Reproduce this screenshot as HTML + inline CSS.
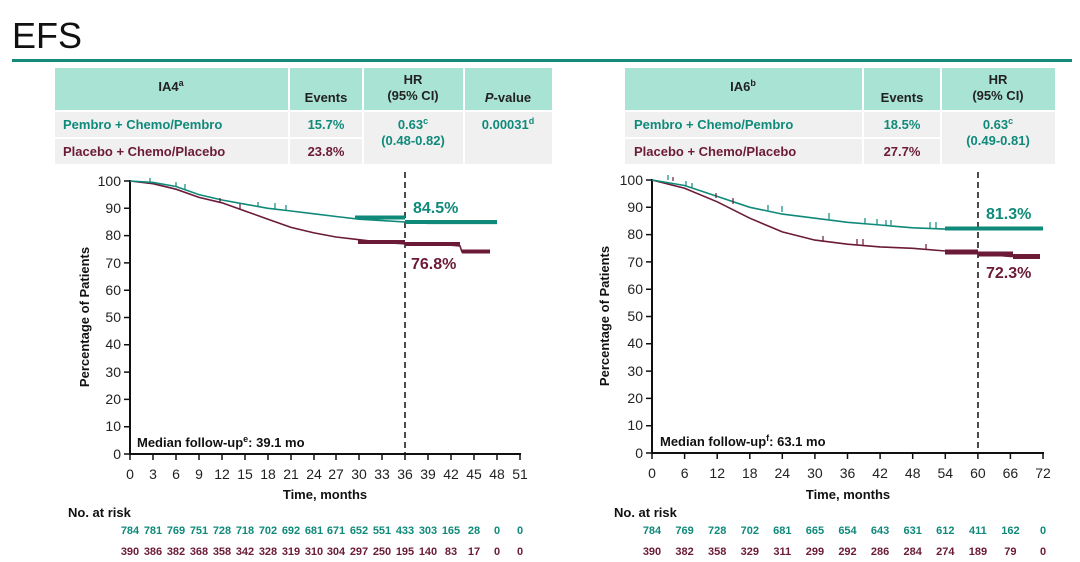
<!DOCTYPE html>
<html><head><meta charset="utf-8"><style>
body{margin:0;background:#fff;}
svg{display:block;font-family:"Liberation Sans",Arial,sans-serif;}
.b{font-weight:bold}
.t{fill:#0f8a7a}.m{fill:#6b1a38}
</style></head><body>
<svg width="1080" height="562" viewBox="0 0 1080 562">
<text x="12" y="48" font-size="36" fill="#111">EFS</text>
<rect x="12" y="59" width="1060" height="3" fill="#148a7a"/>
<!-- Left table -->
<g>
<rect x="55" y="68" width="233" height="42" fill="#a9e3d3"/>
<rect x="290" y="68" width="72" height="42" fill="#a9e3d3"/>
<rect x="364" y="68" width="99" height="42" fill="#a9e3d3"/>
<rect x="465" y="68" width="87" height="42" fill="#a9e3d3"/>
<rect x="55" y="112" width="233" height="25" fill="#f0f0f0"/>
<rect x="55" y="139" width="233" height="25" fill="#f0f0f0"/>
<rect x="290" y="112" width="72" height="25" fill="#f0f0f0"/>
<rect x="290" y="139" width="72" height="25" fill="#f0f0f0"/>
<rect x="364" y="112" width="99" height="52" fill="#f0f0f0"/>
<rect x="465" y="112" width="87" height="52" fill="#f0f0f0"/>
<g font-size="13" class="b" fill="#222" text-anchor="middle">
<text x="171" y="91">IA4<tspan font-size="9" dy="-5">a</tspan></text>
<text x="326" y="102">Events</text>
<text x="413" y="84">HR</text><text x="413" y="100">(95% CI)</text>
<text x="508" y="102"><tspan font-style="italic">P</tspan>-value</text>
</g>
<g font-size="13" class="b">
<text x="63" y="129" class="t">Pembro  + Chemo/Pembro</text>
<text x="63" y="156" class="m">Placebo  + Chemo/Placebo</text>
<text x="326" y="129" class="t" text-anchor="middle">15.7%</text>
<text x="326" y="156" class="m" text-anchor="middle">23.8%</text>
<text x="413" y="129" class="t" text-anchor="middle">0.63<tspan font-size="9" dy="-5">c</tspan></text>
<text x="413" y="145" class="t" text-anchor="middle">(0.48-0.82)</text>
<text x="508" y="129" class="t" text-anchor="middle">0.00031<tspan font-size="9" dy="-5">d</tspan></text>
</g>
</g>
<!-- Right table -->
<g>
<rect x="625" y="68" width="237" height="42" fill="#a9e3d3"/>
<rect x="864" y="68" width="76" height="42" fill="#a9e3d3"/>
<rect x="942" y="68" width="113" height="42" fill="#a9e3d3"/>
<rect x="625" y="112" width="237" height="25" fill="#f0f0f0"/>
<rect x="625" y="139" width="237" height="25" fill="#f0f0f0"/>
<rect x="864" y="112" width="76" height="25" fill="#f0f0f0"/>
<rect x="864" y="139" width="76" height="25" fill="#f0f0f0"/>
<rect x="942" y="112" width="113" height="52" fill="#f0f0f0"/>
<g font-size="13" class="b" fill="#222" text-anchor="middle">
<text x="743" y="91">IA6<tspan font-size="9" dy="-5">b</tspan></text>
<text x="902" y="102">Events</text>
<text x="998" y="84">HR</text><text x="998" y="100">(95% CI)</text>
</g>
<g font-size="13" class="b">
<text x="634" y="129" class="t">Pembro  + Chemo/Pembro</text>
<text x="634" y="156" class="m">Placebo  + Chemo/Placebo</text>
<text x="902" y="129" class="t" text-anchor="middle">18.5%</text>
<text x="902" y="156" class="m" text-anchor="middle">27.7%</text>
<text x="998" y="129" class="t" text-anchor="middle">0.63<tspan font-size="9" dy="-5">c</tspan></text>
<text x="998" y="145" class="t" text-anchor="middle">(0.49-0.81)</text>
</g>
</g>

<!-- LEFT CHART -->
<path d="M130,180 V454 H521" stroke="#111" stroke-width="2" fill="none"/>
<g stroke="#111" stroke-width="1.5">
<path d="M124,181H130M124,208.3H130M124,235.6H130M124,262.9H130M124,290.2H130M124,317.5H130M124,344.8H130M124,372.1H130M124,399.4H130M124,426.7H130M124,454H130"/>
<path d="M130,454v6M153,454v6M176,454v6M199,454v6M222,454v6M245,454v6M268,454v6M291,454v6M314,454v6M336,454v6M359,454v6M382,454v6M405,454v6M428,454v6M451,454v6M474,454v6M497,454v6M520,454v6"/>
</g>
<g font-size="14" fill="#222" text-anchor="end">
<text x="121" y="186">100</text><text x="121" y="213">90</text><text x="121" y="240">80</text><text x="121" y="268">70</text><text x="121" y="295">60</text><text x="121" y="322">50</text><text x="121" y="349">40</text><text x="121" y="377">30</text><text x="121" y="404">20</text><text x="121" y="431">10</text><text x="121" y="459">0</text>
</g>
<g font-size="14" fill="#222" text-anchor="middle">
<text x="130" y="479">0</text><text x="153" y="479">3</text><text x="176" y="479">6</text><text x="199" y="479">9</text><text x="222" y="479">12</text><text x="245" y="479">15</text><text x="268" y="479">18</text><text x="291" y="479">21</text><text x="314" y="479">24</text><text x="336" y="479">27</text><text x="359" y="479">30</text><text x="382" y="479">33</text><text x="405" y="479">36</text><text x="428" y="479">39</text><text x="451" y="479">42</text><text x="474" y="479">45</text><text x="497" y="479">48</text><text x="520" y="479">51</text>
</g>
<text x="325" y="499" font-size="13" class="b" text-anchor="middle" fill="#111">Time, months</text>
<text transform="translate(89,317) rotate(-90)" font-size="13" class="b" text-anchor="middle" fill="#111">Percentage of Patients</text>
<text x="137" y="447" font-size="13" class="b" fill="#111">Median  follow-up<tspan font-size="9" dy="-5">e</tspan><tspan dy="5">:  39.1 mo</tspan></text>
<path d="M405,172V454" stroke="#111" stroke-width="1.5" stroke-dasharray="6,4"/>
<polyline fill="none" stroke="#6b1a38" stroke-width="1.6" points="130,181 153,183.7 176,189.2 199,197.4 222,202.8 245,211 268,219.2 291,227.4 314,232.9 336,237 359,239.7 382,242.4 405,243.8 451,245.2 460,246 462,252 490,252"/>
<polyline fill="none" stroke="#0f8a7a" stroke-width="1.6" points="130,181 153,182.4 176,186.5 199,194.6 222,200 245,204.2 268,208.3 291,211 314,213.8 336,216.5 359,219.2 382,220.6 405,222 428,223.3 497,223.3"/>
<path d="M150,182v-4M176,186v-4M185,189v-5M258,207v-5M275,209v-6M286,210v-5" stroke="#0f8a7a" stroke-width="1.2"/>
<path d="M220,202v-4M240,209v-5" stroke="#6b1a38" stroke-width="1.2"/>
<path d="M355,217.5H405M405,222H497" stroke="#0f8a7a" stroke-width="4"/>
<path d="M358,242H405M405,244H460M462,251.5H490" stroke="#6b1a38" stroke-width="4"/>
<text x="413" y="213" font-size="16" class="b t">84.5%</text>
<text x="411" y="269" font-size="16" class="b m">76.8%</text>
<text x="68" y="517" font-size="13" class="b" fill="#111">No. at risk</text>
<g font-size="11" class="b t" text-anchor="middle">
<text x="130" y="534">784</text><text x="153" y="534">781</text><text x="176" y="534">769</text><text x="199" y="534">751</text><text x="222" y="534">728</text><text x="245" y="534">718</text><text x="268" y="534">702</text><text x="291" y="534">692</text><text x="314" y="534">681</text><text x="336" y="534">671</text><text x="359" y="534">652</text><text x="382" y="534">551</text><text x="405" y="534">433</text><text x="428" y="534">303</text><text x="451" y="534">165</text><text x="474" y="534">28</text><text x="497" y="534">0</text><text x="520" y="534">0</text>
</g>
<g font-size="11" class="b m" text-anchor="middle">
<text x="130" y="555">390</text><text x="153" y="555">386</text><text x="176" y="555">382</text><text x="199" y="555">368</text><text x="222" y="555">358</text><text x="245" y="555">342</text><text x="268" y="555">328</text><text x="291" y="555">319</text><text x="314" y="555">310</text><text x="336" y="555">304</text><text x="359" y="555">297</text><text x="382" y="555">250</text><text x="405" y="555">195</text><text x="428" y="555">140</text><text x="451" y="555">83</text><text x="474" y="555">17</text><text x="497" y="555">0</text><text x="520" y="555">0</text>
</g>

<!-- RIGHT CHART -->
<path d="M652,179V453H1044" stroke="#111" stroke-width="2" fill="none"/>
<g stroke="#111" stroke-width="1.5">
<path d="M646,180H652M646,207.3H652M646,234.6H652M646,261.9H652M646,289.2H652M646,316.5H652M646,343.8H652M646,371.1H652M646,398.4H652M646,425.7H652M646,453H652"/>
<path d="M652,453v6M684.6,453v6M717.2,453v6M749.8,453v6M782.3,453v6M814.9,453v6M847.5,453v6M880.1,453v6M912.7,453v6M945.3,453v6M977.9,453v6M1010.4,453v6M1043,453v6"/>
</g>
<g font-size="14" fill="#222" text-anchor="end">
<text x="643" y="185">100</text><text x="643" y="212">90</text><text x="643" y="239">80</text><text x="643" y="267">70</text><text x="643" y="294">60</text><text x="643" y="321">50</text><text x="643" y="348">40</text><text x="643" y="376">30</text><text x="643" y="403">20</text><text x="643" y="430">10</text><text x="643" y="458">0</text>
</g>
<g font-size="14" fill="#222" text-anchor="middle">
<text x="652" y="478">0</text><text x="684.6" y="478">6</text><text x="717.2" y="478">12</text><text x="749.8" y="478">18</text><text x="782.3" y="478">24</text><text x="814.9" y="478">30</text><text x="847.5" y="478">36</text><text x="880.1" y="478">42</text><text x="912.7" y="478">48</text><text x="945.3" y="478">54</text><text x="977.9" y="478">60</text><text x="1010.4" y="478">66</text><text x="1043" y="478">72</text>
</g>
<text x="848" y="499" font-size="13" class="b" text-anchor="middle" fill="#111">Time, months</text>
<text transform="translate(609,316) rotate(-90)" font-size="13" class="b" text-anchor="middle" fill="#111">Percentage of Patients</text>
<text x="660" y="446" font-size="13" class="b" fill="#111">Median  follow-up<tspan font-size="9" dy="-5">f</tspan><tspan dy="5">:  63.1 mo</tspan></text>
<path d="M978,172V453" stroke="#111" stroke-width="1.5" stroke-dasharray="6,4"/>
<polyline fill="none" stroke="#6b1a38" stroke-width="1.6" points="652,180 684.6,188.2 717.2,201.8 749.8,218.2 782.3,231.9 814.9,240.1 847.5,244.2 880.1,246.9 912.7,248.3 945.3,251 977.9,253.7 1010.4,256.4 1040,256.4"/>
<polyline fill="none" stroke="#0f8a7a" stroke-width="1.6" points="652,180 684.6,185.5 717.2,196.4 749.8,207.3 782.3,214.1 814.9,218.2 847.5,222.3 880.1,225 912.7,227.8 945.3,229.1 977.9,229.5 1043,229.5"/>
<path d="M668,180v-5M686,186v-5M692,188v-5M768,210v-5M782,212v-6M829,219v-6M865,223v-5M877,224v-5M886,225v-5M891,225v-5M930,228v-6M936,228v-6" stroke="#0f8a7a" stroke-width="1.2"/>
<path d="M673,181v-4M716,198v-5M733,204v-6M823,242v-6M857,245v-6M863,245v-6M926,250v-6" stroke="#6b1a38" stroke-width="1.2"/>
<path d="M945,228.5H1043" stroke="#0f8a7a" stroke-width="4"/>
<path d="M945,252H978M978,254H1013M1013,256.5H1040" stroke="#6b1a38" stroke-width="5"/>
<text x="986" y="219" font-size="16" class="b t">81.3%</text>
<text x="986" y="278" font-size="16" class="b m">72.3%</text>
<text x="614" y="517" font-size="13" class="b" fill="#111">No. at risk</text>
<g font-size="11" class="b t" text-anchor="middle">
<text x="652" y="534">784</text><text x="684.6" y="534">769</text><text x="717.2" y="534">728</text><text x="749.8" y="534">702</text><text x="782.3" y="534">681</text><text x="814.9" y="534">665</text><text x="847.5" y="534">654</text><text x="880.1" y="534">643</text><text x="912.7" y="534">631</text><text x="945.3" y="534">612</text><text x="977.9" y="534">411</text><text x="1010.4" y="534">162</text><text x="1043" y="534">0</text>
</g>
<g font-size="11" class="b m" text-anchor="middle">
<text x="652" y="555">390</text><text x="684.6" y="555">382</text><text x="717.2" y="555">358</text><text x="749.8" y="555">329</text><text x="782.3" y="555">311</text><text x="814.9" y="555">299</text><text x="847.5" y="555">292</text><text x="880.1" y="555">286</text><text x="912.7" y="555">284</text><text x="945.3" y="555">274</text><text x="977.9" y="555">189</text><text x="1010.4" y="555">79</text><text x="1043" y="555">0</text>
</g>
</svg>
</body></html>
